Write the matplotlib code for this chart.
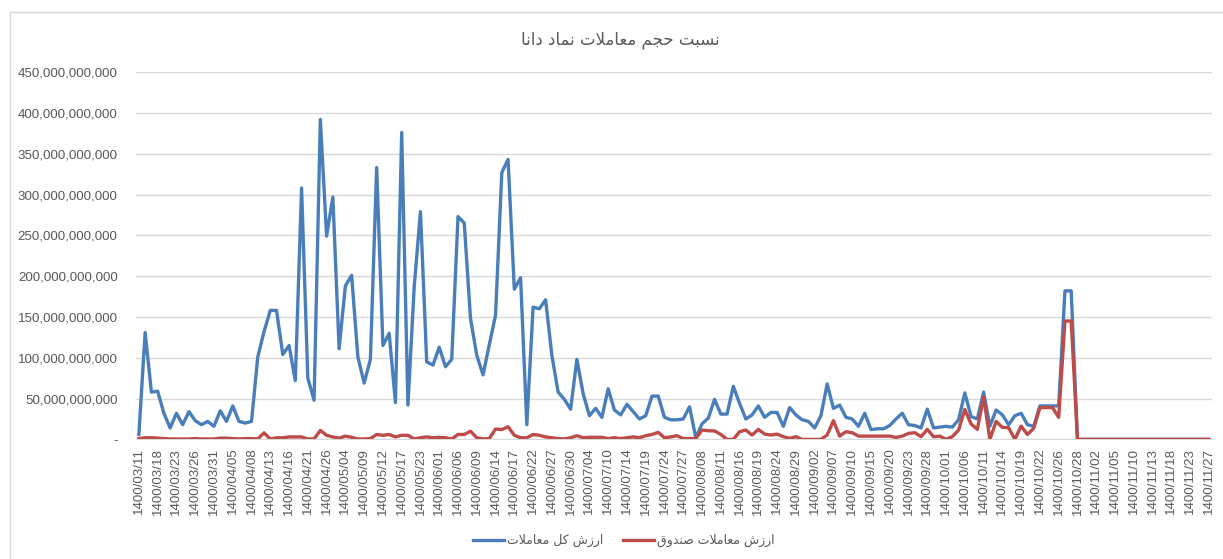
import matplotlib
matplotlib.use("Agg")
import matplotlib.pyplot as plt
from matplotlib.lines import Line2D
from matplotlib.ticker import FuncFormatter

# ---- data (values in billions of rials) ----
tick_labels = [
    "1400/03/11", "1400/03/18", "1400/03/23", "1400/03/26", "1400/03/31",
    "1400/04/05", "1400/04/08", "1400/04/13", "1400/04/16", "1400/04/21",
    "1400/04/26", "1400/05/04", "1400/05/09", "1400/05/12", "1400/05/17",
    "1400/05/23", "1400/06/01", "1400/06/06", "1400/06/09", "1400/06/14",
    "1400/06/17", "1400/06/22", "1400/06/27", "1400/06/30", "1400/07/04",
    "1400/07/10", "1400/07/14", "1400/07/19", "1400/07/24", "1400/07/27",
    "1400/08/08", "1400/08/11", "1400/08/16", "1400/08/19", "1400/08/24",
    "1400/08/29", "1400/09/02", "1400/09/07", "1400/09/10", "1400/09/15",
    "1400/09/20", "1400/09/23", "1400/09/28", "1400/10/01", "1400/10/06",
    "1400/10/11", "1400/10/14", "1400/10/19", "1400/10/22", "1400/10/26",
    "1400/10/28", "1400/11/02", "1400/11/05", "1400/11/10", "1400/11/13",
    "1400/11/18", "1400/11/23", "1400/11/27",
]

total_value = [
    6, 131, 58, 59, 32, 14, 32, 18, 34, 23,
    18, 22, 16, 35, 22, 41, 22, 20, 22, 101,
    132, 158, 158, 104, 115, 72, 308, 75, 48, 392,
    249, 297, 111, 188, 201, 101, 69, 98, 333, 115,
    130, 45, 376, 42, 187, 279, 95, 91, 113, 89,
    98, 273, 265, 148, 103, 79, 116, 152, 327, 343,
    184, 198, 18, 162, 160, 171, 103, 58, 49, 37,
    98, 56, 29, 38, 27, 62, 36, 30, 43, 34,
    25, 29, 53, 53, 27, 24, 24, 25, 40, 2,
    19, 26, 49, 31, 31, 65, 44, 25, 30, 41,
    27, 33, 33, 16, 39, 30, 24, 22, 14, 29,
    68, 38, 42, 27, 25, 16, 32, 12, 13, 13,
    17, 25, 32, 18, 17, 14, 37, 14, 15, 16,
    15, 24, 57, 28, 25, 58, 16, 36, 30, 18,
    29, 32, 18, 16, 41, 41, 41, 41, 182, 182,
    0, 0, 0, 0, 0, 0, 0, 0, 0, 0,
    0, 0, 0, 0, 0, 0, 0, 0, 0, 0,
    0, 0,
]

fund_value = [
    1, 2, 2, 1.5, 1, 0.5, 0.5, 0.5, 0.5, 1,
    0.5, 0.5, 0.5, 1.5, 1.5, 1, 0.5, 1, 1, 0.5,
    8, 0.5, 2, 2, 3, 3, 3, 0.5, 0.5, 11,
    5, 3, 1.5, 4, 2.5, 0.5, 0.5, 1, 6, 5,
    6, 3, 5, 5, 0.5, 2, 3, 2, 2.5, 2,
    0.5, 6, 6, 10, 2, 0.5, 1, 12.7, 12, 15.5,
    5, 2, 2, 6, 5, 3, 2, 1, 0.5, 2,
    4.5, 2, 2.5, 2.5, 2.5, 1, 2, 1, 2, 3,
    2, 4.5, 6, 8.6, 2, 3, 4.5, 1, 1, 1,
    11.4, 10.6, 10.4, 6, 0, 0, 9.4, 11.4, 5.3, 12.2,
    6.5, 5.3, 6.5, 3.3, 1.2, 3.3, 0, 0, 0, 0,
    5.3, 22.9, 4, 9.4, 8.2, 4, 4, 4, 4, 4,
    4, 2.4, 4, 7.3, 8.2, 3.3, 12.2, 3.3, 4, 0,
    3.3, 11.4, 36.7, 18.8, 12.2, 52.2, 0, 22, 14.7, 14.3,
    0, 16.3, 6, 13.5, 38.8, 39, 39, 27, 145, 145,
    0, 0, 0, 0, 0, 0, 0, 0, 0, 0,
    0, 0, 0, 0, 0, 0, 0, 0, 0, 0,
    0, 0,
]

title_fa = "نسبت حجم معاملات نماد دانا"
label_total = "ارزش کل معاملات"
label_fund = "ارزش معاملات صندوق"

# ---- tiny persian shaper (matplotlib has no bidi / shaping) ----
FORMS = {
    "ا": ("\uFE8D", "\uFE8E"), "د": ("\uFEA9", "\uFEAA"),
    "ر": ("\uFEAD", "\uFEAE"), "ز": ("\uFEAF", "\uFEB0"),
    "و": ("\uFEED", "\uFEEE"),
    "ب": ("\uFE8F", "\uFE90", "\uFE91", "\uFE92"),
    "ت": ("\uFE95", "\uFE96", "\uFE97", "\uFE98"),
    "ج": ("\uFE9D", "\uFE9E", "\uFE9F", "\uFEA0"),
    "ح": ("\uFEA1", "\uFEA2", "\uFEA3", "\uFEA4"),
    "س": ("\uFEB1", "\uFEB2", "\uFEB3", "\uFEB4"),
    "ش": ("\uFEB5", "\uFEB6", "\uFEB7", "\uFEB8"),
    "ص": ("\uFEB9", "\uFEBA", "\uFEBB", "\uFEBC"),
    "ع": ("\uFEC9", "\uFECA", "\uFECB", "\uFECC"),
    "ق": ("\uFED5", "\uFED6", "\uFED7", "\uFED8"),
    "ک": ("\uFED9", "\uFEDA", "\uFEDB", "\uFEDC"),
    "ل": ("\uFEDD", "\uFEDE", "\uFEDF", "\uFEE0"),
    "م": ("\uFEE1", "\uFEE2", "\uFEE3", "\uFEE4"),
    "ن": ("\uFEE5", "\uFEE6", "\uFEE7", "\uFEE8"),
}


def shape(text):
    out = []
    for word in text.split(" "):
        # merge lam + alef into one ligature unit
        units = []
        i = 0
        while i < len(word):
            if word[i] == "ل" and i + 1 < len(word) and word[i + 1] == "ا":
                units.append("LA")
                i += 2
            else:
                units.append(word[i])
                i += 1
        res = ""
        prev_joins = False
        for k, u in enumerate(units):
            nxt = k + 1 < len(units)
            if u == "LA":
                res += "\uFEFC" if prev_joins else "\uFEFB"
                prev_joins = False
                continue
            f = FORMS[u]
            dual = len(f) == 4
            if dual and nxt:
                res += f[3] if prev_joins else f[2]
                prev_joins = True
            else:
                res += f[1] if prev_joins else f[0]
                prev_joins = False
        out.append(res)
    return " ".join(out)[::-1]


# ---- plot ----
plt.rcParams["font.family"] = ["Liberation Sans", "DejaVu Sans"]
grey = "#595959"

fig = plt.figure(figsize=(12.23, 5.59), dpi=100)
ax = fig.add_axes([0.111, 0.214, 0.880, 0.657])

x = list(range(len(total_value)))
ax.plot(x, [v * 1e9 for v in total_value], color="#4A7EBB", lw=2.4,
        solid_joinstyle="round", zorder=3)
ax.plot(x, [v * 1e9 for v in fund_value], color="#BE4B48", lw=2.4,
        solid_joinstyle="round", zorder=3)

ax.set_xlim(-0.5, len(x) - 0.5)
ax.set_ylim(0, 450e9)
ax.set_yticks([i * 50e9 for i in range(10)])
ax.yaxis.set_major_formatter(
    FuncFormatter(lambda v, p: "-" if v == 0 else f"{v:,.0f}"))
ax.set_xticks(x[::3])
ax.set_xticklabels(tick_labels, rotation=90)
ax.tick_params(axis="both", length=0, labelcolor=grey)
ax.tick_params(axis="y", pad=13, labelsize=9.6)
ax.tick_params(axis="x", pad=6, labelsize=9.6)

ax.grid(axis="y", color="#D9D9D9", lw=1)
ax.set_axisbelow(True)
for s in ["top", "right", "left"]:
    ax.spines[s].set_visible(False)
ax.spines["bottom"].set_color("#D9D9D9")

fig.text(0.507, 0.928, shape(title_fa), ha="center", va="center",
         fontsize=12, color=grey, family=["DejaVu Sans"])

handles = [Line2D([], [], color="#4A7EBB", lw=2.4),
           Line2D([], [], color="#BE4B48", lw=2.4)]
leg = fig.legend(handles, [shape(label_total), shape(label_fund)],
                 loc="center", bbox_to_anchor=(0.51, 0.033), ncol=2,
                 frameon=False, handlelength=2.5, handletextpad=0.2,
                 columnspacing=1.6, prop={"family": "DejaVu Sans", "size": 9})
for t in leg.get_texts():
    t.set_color(grey)

# chart-area border (only the top/left edges show in the frame)
fig.add_artist(Line2D([0.008, 0.008], [0, 0.978], color="#D9D9D9", lw=1,
                      transform=fig.transFigure))
fig.add_artist(Line2D([0.008, 1.0], [0.978, 0.978], color="#D9D9D9", lw=1,
                      transform=fig.transFigure))

fig.savefig("out.png", dpi=100)
